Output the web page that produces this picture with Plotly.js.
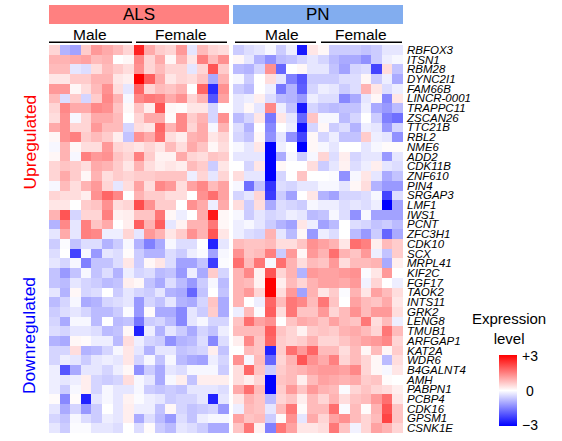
<!DOCTYPE html>
<html>
<head>
<meta charset="utf-8">
<script src="https://cdn.plot.ly/plotly-3.0.1.min.js"></script>
<style>
  html, body { margin: 0; padding: 0; background: #ffffff; }
  #chart { width: 562px; height: 441px; }
</style>
</head>
<body>
<div id="chart"></div>
<script>
// ---------------- DATA ----------------
const genesUp = ["RBFOX3","ITSN1","RBM28","DYNC2I1","FAM66B","LINCR-0001","TRAPPC11","ZSCAN26","TTC21B","RBL2",
  "NME6","ADD2","CDK11B","ZNF610","PIN4","SRGAP3","LMF1","IWS1","PCNT","ZFC3H1"];
const genesDown = ["CDK10","SCX","MRPL41","KIF2C","FGF17","TAOK2","INTS11","GRK2","LENG8","TMUB1",
  "ARFGAP1","KAT2A","WDR6","B4GALNT4","AMH","PABPN1","PCBP4","CDK16","GPSM1","CSNK1E"];

const alsSamples = ["M1","M2","M3","M4","M5","M6","M7","M8","F1","F2","F3","F4","F5","F6","F7","F8","F9"];
const pnSamples  = ["M1","M2","M3","M4","M5","M6","M7","M8","F1","F2","F3","F4","F5","F6","F7","F8"];

const alsUp = [
  [0.5,-0.9,-1.1,0.6,1.2,1.0,0.8,0.5, 2.6,1.0,0.6,0.5,1.2,-0.3,0.8,0.5,0.4],
  [0.9,0.9,1.0,1.1,0.8,0.9,0,0.1, 1.4,0.5,1.0,0.1,0.9,0.3,1.5,0.8,1.3],
  [0.8,0.8,-0.3,-0.4,0.4,0.8,0.6,0.4, 1.3,0.5,0.8,0.5,0.5,-0.3,0.5,2.0,0.6],
  [0.3,0.3,0.6,0.6,0.9,0.9,0.3,0.2, 3.0,1.9,1.0,0.3,0.5,0.4,0.7,-1.0,0.9],
  [1.2,1.2,0.1,0.4,0.8,1.3,0.4,-0.3, 1.8,0.5,0.8,0.7,0.9,0.0,1.8,-2.5,1.3],
  [0.8,-0.4,0.6,-0.5,0.6,1.4,0.9,-0.1, 1.4,1.6,1.5,1.0,1.3,0.5,0.9,-2.0,1.1],
  [0.5,1.4,1.0,1.0,1.4,1.3,0.7,0.1, 0.7,0.2,2.0,0.1,0.05,0.3,0.3,-0.5,0.0],
  [0.4,1.3,-0.1,0.5,1.0,1.0,0.8,0.0, 0.5,1.0,1.0,0.05,1.4,0.6,0.9,-0.5,1.3],
  [1.0,1.3,0.5,0.5,1.2,0.8,0.8,-0.5, 0.4,0.3,1.8,0.9,1.4,0.5,1.0,-0.1,0.9],
  [0.1,1.3,1.5,0.6,0.8,0.6,0.2,-0.7, 1.3,1.0,1.7,0.4,0.2,0.9,1.0,0.3,0.5],
  [-0.1,0.9,0.1,0.4,0.4,1.2,0.5,0.4, 0.3,0.5,0.3,0.8,0.4,1.0,0.7,0.1,0.4],
  [0.1,0.9,-0.1,1.5,1.2,1.3,0.7,0.5, 1.5,0.6,0.15,0.15,1.0,0.5,0.4,0.7,0.6],
  [0.5,0.7,0.6,0.4,1.0,0.9,0.6,0.3, 0.9,0.4,0.2,0.3,0.2,0.8,0.6,-0.6,0.3],
  [0.5,1.0,0.6,0.1,0.9,0.4,0.6,0.5, 0.6,0.6,0.7,0.7,0.7,-0.2,0.5,-0.3,0.5],
  [-0.1,0.8,0.4,0.9,1.2,0.5,-0.3,0.4, 1.1,0.4,1.4,1.2,0.4,1.1,1.4,0.8,1.1],
  [0.5,0.4,0.4,0.2,1.3,1.8,1.4,0.0, 0.9,0.6,0.6,0.4,0.4,0.0,1.3,1.7,1.1],
  [0.3,0.3,0.0,0.6,0.7,1.3,0.4,0.5, 2.1,1.3,0.6,0.6,0.0,1.3,1.0,-0.2,1.0],
  [0.9,2.0,-0.5,0.5,0.5,1.5,0.15,0.2, 0.7,0.7,1.6,0.1,-0.2,0.0,1.0,2.7,0.1],
  [-0.9,1.4,-0.3,1.5,0.7,1.0,0.0,0.2, 1.9,0.9,1.9,-0.3,0.15,0.9,0.9,1.6,0.1],
  [-0.3,1.0,-0.3,1.5,1.4,-0.2,-0.2,0.5, -0.3,1.2,0.9,0.3,0.6,1.3,0.9,2.0,0.3]
];

const pnUp = [
  [-0.6,-0.4,-0.3,-0.1,-0.6,-0.2,-2.7,0.3, 0.1,-0.6,-0.6,-0.6,-0.7,-0.6,-0.3,-0.3],
  [0.1,-0.3,-0.9,-1.3,-0.8,-0.7,-0.5,-0.3, -0.5,-0.8,-1.0,-1.0,-1.3,-0.6,-0.2,-0.1],
  [-0.8,-0.9,-0.5,1.3,-1.8,0.0,0.1,-0.3, -0.3,-0.7,-1.1,-0.5,-0.4,-2.2,0.4,-0.7],
  [-0.1,-0.6,0.0,0.4,-0.3,-1.5,-2.0,-0.6, -0.6,-0.6,-0.4,-0.4,0.1,-0.6,-0.2,-1.0],
  [-0.6,-0.8,0.0,-0.2,-1.6,-0.9,-1.9,-0.5, -0.2,-0.3,-0.6,-0.4,0.9,0.3,-0.4,-0.2],
  [-0.3,-0.2,0.2,-0.4,-0.8,-0.9,-1.2,-0.2, -0.4,-0.4,-1.4,-1.0,-0.3,0.1,-1.4,0.3],
  [-0.3,0.1,-0.3,1.4,-0.2,-0.7,-2.7,-0.5, -0.7,-0.8,-0.7,-0.7,-0.2,-1.0,-1.2,-0.8],
  [-0.8,-0.5,0.3,-1.6,0.3,-0.3,-1.8,0.7, -0.1,-0.1,-0.8,-0.5,0.0,-0.6,-1.5,-1.7],
  [-0.4,-0.9,0.0,-1.4,0.0,-0.2,-2.8,-0.5, 0.1,-0.6,-0.4,-0.9,-0.2,-0.3,-1.2,-0.5],
  [-0.5,-0.7,0.1,-1.3,-0.3,-1.3,-2.2,0.1, -0.5,-0.2,-0.7,-0.7,0.6,-0.2,-0.3,-1.3],
  [-0.1,-0.3,0.3,-3.0,-0.2,0.0,-3.0,0.1, -0.1,-0.3,0.0,0.0,-0.3,-0.1,0.05,0.05],
  [-0.3,-0.3,-0.3,-3.0,-1.0,-0.1,-0.6,-0.1, 0.5,-0.4,0.2,-0.5,-0.3,-0.3,-1.2,-0.3],
  [0.0,-0.5,0.3,-3.0,0.1,0.0,0.0,0.4, -0.6,-0.3,0.15,-0.4,-0.2,0.2,-0.3,-0.4],
  [0.4,-0.3,-0.3,-3.0,-0.5,0.0,0.7,0.0, 0.0,-0.05,-1.3,-0.1,0.3,-0.3,-1.0,-0.7],
  [-0.1,-1.7,-0.7,-2.4,-0.4,-0.5,-0.3,-0.3, -0.1,-0.1,-0.3,0.1,0.4,-0.9,-1.2,-1.2],
  [-0.5,-0.3,0.5,-2.3,-0.6,-1.1,0.0,0.3, -0.9,-1.1,-0.5,-0.5,-0.4,-0.1,-2.2,-0.4],
  [0.4,-0.6,0.4,-1.0,-0.4,-0.5,-0.6,-0.1, -0.2,-0.2,-0.4,-0.3,-0.4,-0.2,-3.0,-1.1],
  [-0.1,-0.6,-0.3,-0.5,-0.4,-0.2,-0.3,-0.8, -0.7,-0.1,-0.4,-1.3,-0.1,-1.1,-1.1,-1.1],
  [-0.2,-0.1,-0.3,-0.6,-0.9,-1.1,0.3,-0.2, -1.1,-0.8,0.0,-0.4,-0.5,-0.7,-0.6,-0.8],
  [-0.2,-0.4,-0.5,0.9,-0.3,-0.8,0.1,-1.2, -0.2,-0.4,0.0,-0.8,-1.2,-0.6,-1.8,-1.0]
];

const alsDown = [
  [-0.6,-0.05,-0.7,-0.4,-0.4,-0.9,-0.6,-0.1, -0.9,-1.5,-1.0,-0.1,-0.4,-0.4,0.0,-2.6,-0.3],
  [-0.4,0.0,-2.2,-0.1,-1.2,-0.3,-0.4,0.05, -0.6,-0.9,-0.9,-0.4,-0.6,-0.2,-0.05,-1.1,-0.1],
  [-0.3,-0.5,-0.1,-1.5,-0.7,-0.7,-0.4,0.3, -0.6,0.1,0.3,-0.4,-1.1,-1.1,-0.7,-2.3,-0.05],
  [-0.7,-1.2,-0.7,-0.1,-0.7,-0.4,-0.9,-0.2, -0.5,-0.4,-0.8,-0.7,-1.2,-0.2,-1.0,0.6,-0.5],
  [-0.7,-0.8,-0.3,-0.5,-0.6,-0.8,-0.7,0.2, 0.1,-0.7,-1.0,-0.4,-0.8,-1.2,-0.6,-0.1,-0.8],
  [-0.3,-0.9,0.1,-0.5,-0.4,0.0,-0.6,-0.3, -0.5,-0.6,-0.3,-0.9,-1.0,-1.8,-0.7,0.0,-0.7],
  [-0.8,-0.5,-0.1,-1.0,-0.9,-0.5,-0.4,-0.3, -1.2,-0.5,-0.7,-0.3,-0.9,-1.0,-0.5,0.7,-1.0],
  [-0.6,-0.4,-0.3,-0.5,-0.8,-0.8,-0.6,-0.05, -1.2,0.05,-1.0,-1.0,-1.4,-0.3,-0.6,0.6,-1.0],
  [-0.5,-1.0,-0.1,-0.1,-0.8,0.0,-0.8,-0.7, -1.6,-0.6,-0.5,-0.8,-1.4,-0.3,-0.1,-0.5,-0.5],
  [-0.4,-0.5,-0.3,-0.3,-0.4,-0.8,-0.7,0.1, -2.6,-0.2,-0.9,-0.3,-0.6,-1.0,-0.5,-0.7,-0.2],
  [-0.9,-1.0,0.1,0.05,-0.2,-0.2,-0.8,0.4, -0.2,-0.5,-0.6,-1.3,-0.9,-0.8,-0.4,-1.4,-0.4],
  [-0.5,-0.5,0.4,-0.9,-0.8,-0.5,-0.1,0.3, -0.3,-0.9,-0.3,-0.3,-0.7,-0.6,-0.5,0.2,-0.7],
  [-0.5,-0.2,-0.3,-0.6,-0.3,-0.2,-0.3,0.3, -0.5,-0.1,-0.7,-0.1,-0.8,-1.0,-1.1,-0.2,-0.5],
  [-0.2,-2.0,-1.0,-0.3,-0.3,-0.5,-0.2,0.1, -1.3,-0.6,-1.0,-0.3,-0.4,-0.1,-0.1,-0.1,-0.6],
  [-0.2,-0.3,-0.2,0.2,-0.5,-0.6,-0.5,0.4, -0.1,-0.3,-1.0,-0.1,0.2,-0.7,0.2,0.2,0.2],
  [-0.2,-0.6,-0.1,0.2,-0.5,-0.1,-0.3,-0.3, -0.1,-0.6,-0.7,-0.6,-0.7,-0.3,-0.3,-0.3,-0.4],
  [0.05,-1.4,0.05,-2.6,-0.3,-0.1,-0.3,0.15, -0.05,-0.2,-0.3,-0.6,-0.5,-0.5,-0.3,-2.6,-0.3],
  [-0.3,-1.0,-0.5,-1.2,-0.6,0.0,-0.3,0.2, -0.2,-0.2,-0.7,0.1,-0.5,-0.7,-0.6,-0.5,-1.2],
  [-0.5,-0.7,-0.1,-0.4,-0.6,-0.2,-0.3,0.2, -1.0,-0.4,-0.8,-1.2,-0.4,-0.7,-0.2,-0.1,-0.1],
  [-0.3,-0.6,-0.05,-0.05,-0.3,-0.3,-0.4,0.0, -0.4,0.05,-0.6,-0.8,-0.3,-0.4,-0.6,-1.0,-1.0]
];

const pnDown = [
  [0.8,0.7,0.7,0.8,0.4,0.4,0.7,1.3, 1.1,0.9,0.3,1.7,1.5,0.2,0.8,0.6],
  [1.3,0.7,0.8,1.5,-0.6,1.2,0.1,1.2, 0.9,1.7,0.9,0.7,1.2,-0.2,-0.7,0.6],
  [1.7,0.8,1.6,-0.1,1.7,0.9,0.4,0.8, 0.7,1.2,0.4,0.8,0.8,0.9,-1.0,0.2],
  [0.9,1.4,0.15,2.0,0.5,0.9,-0.9,1.2, 1.1,1.1,1.2,1.3,-0.05,0.3,1.2,0.0],
  [0.9,0.8,0.15,3.0,0.2,0.8,0.5,0.9, 1.1,1.1,1.0,1.2,-0.15,0.5,0.0,-0.2],
  [0.9,1.2,0.5,3.0,0.4,1.2,-1.1,0.9, 0.3,0.6,-0.05,0.9,0.3,1.1,0.8,0.4],
  [0.9,0.0,-0.2,1.8,0.8,1.6,1.4,0.8, 1.6,0.7,0.0,1.1,0.8,0.7,1.0,0.3],
  [-0.2,0.8,-0.05,1.9,0.4,1.6,0.7,0.7, 1.2,0.5,0.8,1.3,0.8,1.2,1.2,0.4],
  [0.7,1.7,1.1,1.3,0.0,0.7,1.0,0.9, 0.7,1.1,0.8,0.7,1.6,0.4,0.8,-0.2],
  [0.8,0.8,0.8,1.9,0.7,0.5,0.15,0.6, 0.7,0.6,0.9,1.0,0.8,0.5,1.6,0.8],
  [0.2,1.4,0.7,1.8,0.6,0.5,0.6,0.9, 0.5,0.5,0.7,0.9,1.1,1.2,1.4,0.5],
  [0.0,0.8,0.7,-2.6,0.6,1.7,1.2,1.8, 0.8,0.8,0.4,0.8,0.1,0.8,0.1,0.6],
  [1.3,-0.1,0.8,-1.8,0.5,0.9,2.0,1.3, 1.0,1.5,0.5,0.8,0.5,0.1,-0.8,0.4],
  [0.4,1.8,0.7,-0.6,0.6,0.8,0.9,1.1, 1.2,1.2,1.1,1.4,0.5,0.1,-0.1,0.3],
  [0.4,0.2,0.5,-3.0,0.7,0.8,0.2,0.8, 1.1,1.0,0.9,1.0,0.6,0.7,0.05,0.0],
  [1.0,1.7,0.8,-3.0,0.6,1.2,0.7,1.2, 0.9,0.8,-0.05,0.5,0.7,0.5,0.4,0.2],
  [0.3,0.9,0.7,-0.8,0.5,0.7,0.2,0.8, 0.5,0.9,0.4,0.7,0.8,1.2,1.7,0.3],
  [-0.2,0.8,0.7,-0.3,0.8,1.6,0.05,0.8, 0.8,1.7,-0.05,0.8,0.05,0.9,2.0,0.7],
  [1.1,0.7,0.8,-0.6,0.05,1.3,-0.3,1.0, 0.5,1.1,1.3,0.8,0.5,0.8,2.2,0.7],
  [0.7,1.6,0.15,-1.5,1.6,1.1,0.3,0.3, 0.4,1.6,0.7,-0.15,0.5,1.1,0.9,0.5]
];

const groupLabels = ["ALS", "PN"];
const sexLabels = ["Male", "Female"];
const regulationLabels = ["Upregulated", "Downregulated"];
const legendTitle = "Expression<br>level";
const legendTicks = ["+3", "0", "\u22123"];
const legendTickVals = [3, 0, -3];

// ---------------- LAYOUT GEOMETRY (pixels) ----------------
const W = 562, H = 441;
const L = 49, R = 403, T = 45, B = 433;
const PW = R - L, PH = B - T;
const px = x => (x - L) / PW;          // pixel x -> paper
const py = y => (B - y) / PH;          // pixel y -> paper

const genes = genesUp.concat(genesDown);
const alsZ = alsUp.concat(alsDown);
const pnZ = pnUp.concat(pnDown);

const FONT = "Liberation Sans, Arial, Helvetica, sans-serif";
const NARROW = "Liberation Sans Narrow, Arial Narrow, Liberation Sans, Arial, sans-serif";

const traces = [
  {
    type: "heatmap", x: alsSamples.map((s, i) => i), y: genes, z: alsZ,
    xaxis: "x", yaxis: "y", coloraxis: "coloraxis", hoverinfo: "z"
  },
  {
    type: "heatmap", x: pnSamples.map((s, i) => i), y: genes, z: pnZ,
    xaxis: "x2", yaxis: "y", coloraxis: "coloraxis", hoverinfo: "z"
  }
];

const alsEnd = 229, pnStart = 233;

const shapes = [
  { type: "rect", xref: "paper", yref: "paper", x0: px(L), x1: px(alsEnd), y0: py(24), y1: py(5),
    fillcolor: "#FF8080", line: { width: 0 } },
  { type: "rect", xref: "paper", yref: "paper", x0: px(pnStart), x1: px(R), y0: py(24), y1: py(5),
    fillcolor: "#82ADEF", line: { width: 0 } }
];
const underlines = [[49,132],[136,227],[235,316],[321,402]];
underlines.forEach(u => shapes.push({
  type: "line", xref: "paper", yref: "paper", x0: px(u[0]), x1: px(u[1]), y0: py(42.3), y1: py(42.3),
  line: { color: "#000", width: 1.6 }
}));

const ann = (text, x, y, size, color, extra) => Object.assign({
  text: text, xref: "paper", yref: "paper", x: px(x), y: py(y), showarrow: false,
  xanchor: "center", yanchor: "middle", font: { family: FONT, size: size, color: color }
}, extra || {});

const annotations = [
  ann(groupLabels[0], 138.5, 14.5, 17, "#000"),
  ann(groupLabels[1], 318, 14.5, 17, "#000"),
  ann(sexLabels[0], 90, 34.5, 15.5, "#000"),
  ann(sexLabels[1], 181, 34.5, 15.5, "#000"),
  ann(sexLabels[0], 282, 34.5, 15.5, "#000"),
  ann(sexLabels[1], 361, 34.5, 15.5, "#000"),
  ann(regulationLabels[0], 29, 142.5, 17.4, "#FF0000", { textangle: -90 }),
  ann(regulationLabels[1], 29, 336, 17.4, "#0000FF", { textangle: -90 }),
  ann(legendTitle, 509, 328, 15, "#000"),
  ann(legendTicks[0], 530, 356, 14, "#000"),
  ann(legendTicks[1], 530, 390.5, 14, "#000"),
  ann(legendTicks[2], 530, 425, 14, "#000")
];

const layout = {
  width: W, height: H,
  margin: { l: L, r: W - R, t: T, b: H - B, pad: 0 },
  paper_bgcolor: "#ffffff", plot_bgcolor: "#ffffff",
  showlegend: false,
  font: { family: FONT, color: "#000" },
  xaxis: { domain: [0, px(alsEnd)], range: [-0.5, alsSamples.length - 0.5], visible: false, anchor: "y", fixedrange: true },
  xaxis2: { domain: [px(pnStart), 1], range: [-0.5, pnSamples.length - 0.5], visible: false, anchor: "y", fixedrange: true },
  yaxis: {
    type: "category", categoryorder: "array", categoryarray: genes,
    tickmode: "array", tickvals: genes, ticktext: genes,
    range: [genes.length - 0.5, -0.5], anchor: "x2", side: "right",
    showgrid: false, zeroline: false, showline: false, ticks: "",
    ticklabelstandoff: 3,
    tickfont: { family: NARROW, size: 11.5, color: "#000", style: "italic" },
    fixedrange: true
  },
  coloraxis: {
    cmin: -3, cmax: 3,
    colorscale: [[0, "#0000FF"], [0.5, "#FFFFFF"], [1, "#FF0000"]],
    colorbar: {
      x: px(499), xanchor: "left", y: py(426), yanchor: "bottom",
      thickness: 18, thicknessmode: "pixels", len: 71, lenmode: "pixels",
      xpad: 0, ypad: 0, outlinewidth: 0, ticks: "", showticklabels: false,
      tickvals: legendTickVals
    }
  },
  shapes: shapes,
  annotations: annotations
};

Plotly.newPlot("chart", traces, layout, { displayModeBar: false, staticPlot: true });
</script>
</body>
</html>
